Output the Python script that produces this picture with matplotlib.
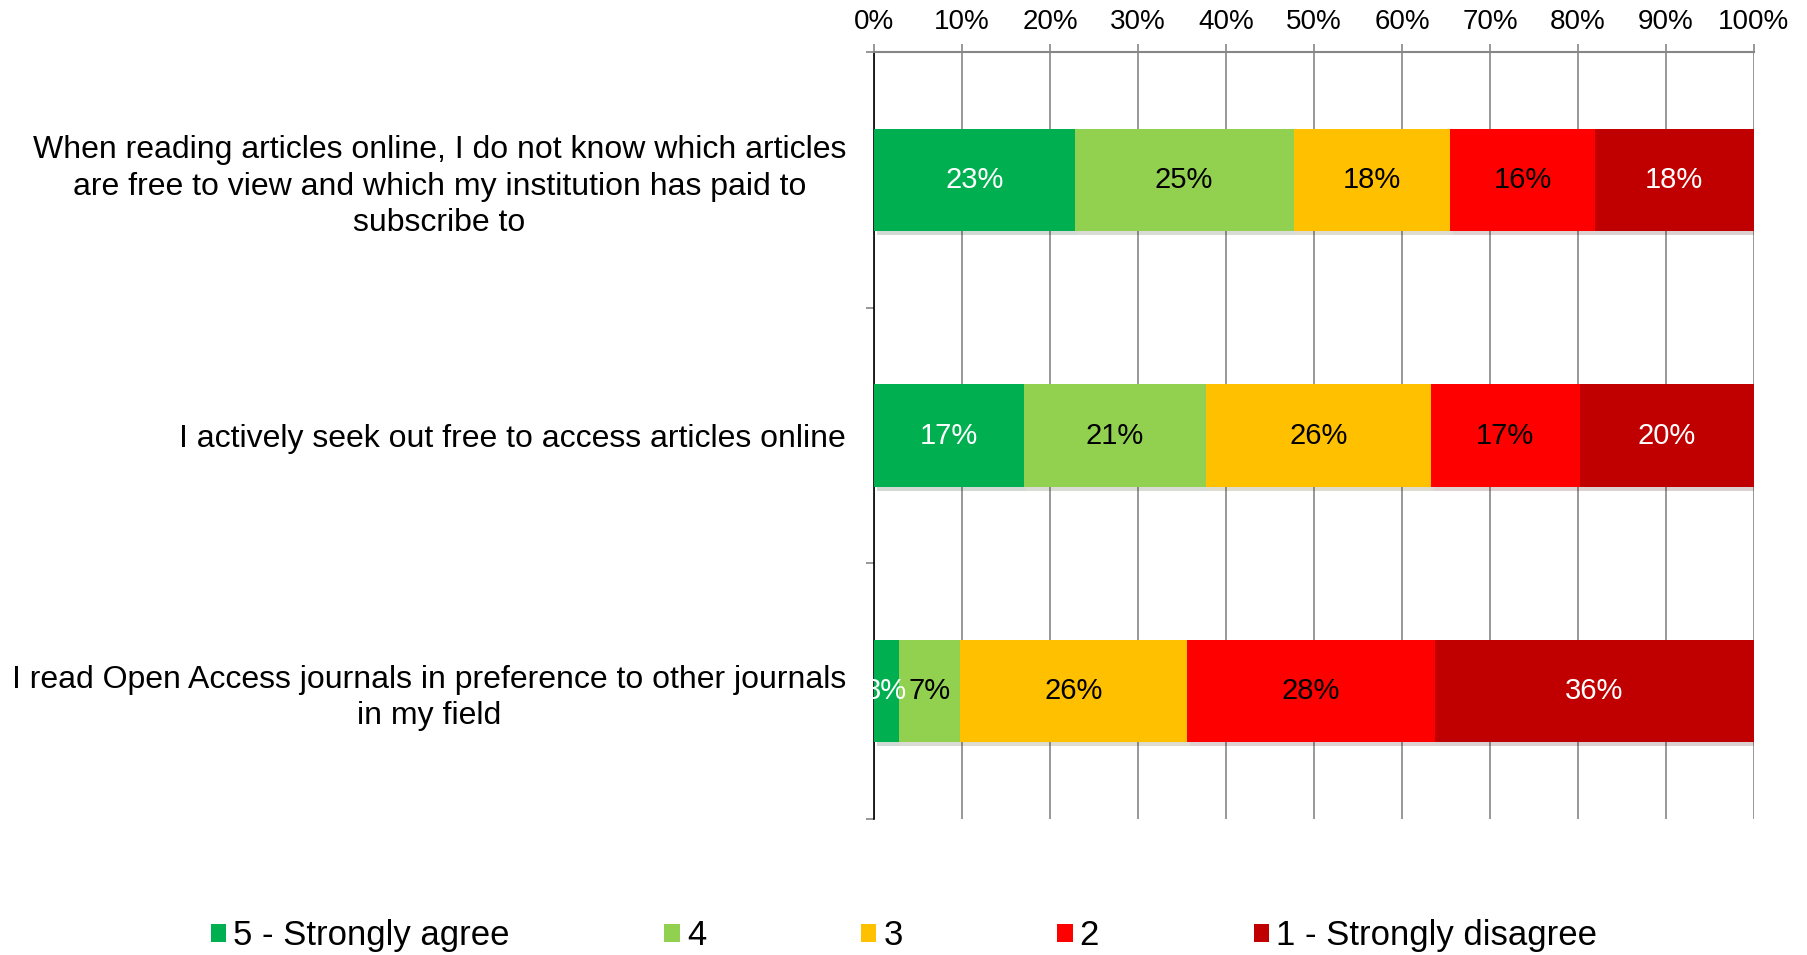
import matplotlib
matplotlib.use('Agg')
import matplotlib.pyplot as plt
import matplotlib.ticker as ticker
import matplotlib.patheffects as pe
from matplotlib.patches import Patch
import numpy as np

# == survey statements (top to bottom)
questions = [
    'When reading articles online, I do not know which articles\nare free to view and which my institution has paid to\nsubscribe to',
    'I actively seek out free to access articles online',
    'I read Open Access journals in preference to other journals\nin my field',
]
levels = ['5 - Strongly agree', '4', '3', '2', '1 - Strongly disagree']
colors = ['#00B050', '#92D050', '#FFC000', '#FF0000', '#C00000']
label_colors = ['white', 'black', 'black', 'black', 'white']

# share of answers (%) per level, one list per statement
agree5 = [22.8, 17.0, 2.8]
agree4 = [24.9, 20.7, 7.0]
neutral3 = [17.8, 25.6, 25.8]
disagree2 = [16.4, 16.9, 28.1]
disagree1 = [18.1, 19.8, 36.3]
series = [agree5, agree4, neutral3, disagree2, disagree1]

plt.rcParams['font.family'] = ['Liberation Sans', 'DejaVu Sans']

fig = plt.figure(figsize=(18.08, 9.55), dpi=100)
ax = fig.add_axes([0.4834, 0.1424, 0.4867, 0.8031])

ypos = np.arange(len(questions))
left = np.zeros(len(questions))
for i, vals in enumerate(series):
    vals = np.array(vals)
    bars = ax.barh(ypos, vals, left=left, height=0.4, color=colors[i], zorder=3)
    for b in bars:
        b.set_path_effects([pe.SimplePatchShadow(offset=(2, -3), alpha=0.18), pe.Normal()])
    for y, l, v in zip(ypos, left, vals):
        ax.text(l + v / 2, y, '{:.0f}%'.format(v), ha='center', va='center',
                fontsize=21, color=label_colors[i], zorder=4)
    left = left + vals

ax.set_xlim(0, 100)
ax.set_ylim(len(questions) - 0.5, -0.5)

# x axis on top
ax.xaxis.tick_top()
ax.xaxis.set_major_locator(ticker.MultipleLocator(10))
ax.xaxis.set_major_formatter(ticker.FuncFormatter(lambda x, p: '{:.0f}%'.format(x)))
ax.tick_params(axis='x', which='major', direction='out', length=6, width=1.2,
               color='#868686', labelsize=20, pad=6)
ax.grid(axis='x', color='#868686', linewidth=1.2, zorder=0)

# y ticks at category boundaries, labels in between
ax.yaxis.set_major_locator(ticker.FixedLocator(np.arange(-0.5, len(questions), 1.0)))
ax.yaxis.set_major_formatter(ticker.NullFormatter())
ax.yaxis.set_minor_locator(ticker.FixedLocator(ypos))
ax.set_yticklabels(questions, minor=True, fontsize=23, multialignment='center',
                   linespacing=1.28)
ax.tick_params(axis='y', which='major', direction='out', length=6, width=1.2, color='#868686')
ax.tick_params(axis='y', which='minor', length=0, pad=20)

for s in ['right', 'bottom']:
    ax.spines[s].set_visible(False)
ax.spines['top'].set_color('#868686')
ax.spines['top'].set_linewidth(1.5)
ax.spines['left'].set_color('black')
ax.spines['left'].set_linewidth(1.2)

handles = [Patch(facecolor=c, label=l) for c, l in zip(colors, levels)]
fig.legend(handles=handles, loc='center', bbox_to_anchor=(0.5, 0.02), ncol=5,
           frameon=False, fontsize=25, handlelength=0.45, handleheight=0.45,
           handletextpad=0.2, columnspacing=4.45)

plt.savefig('out.png', dpi=100)
